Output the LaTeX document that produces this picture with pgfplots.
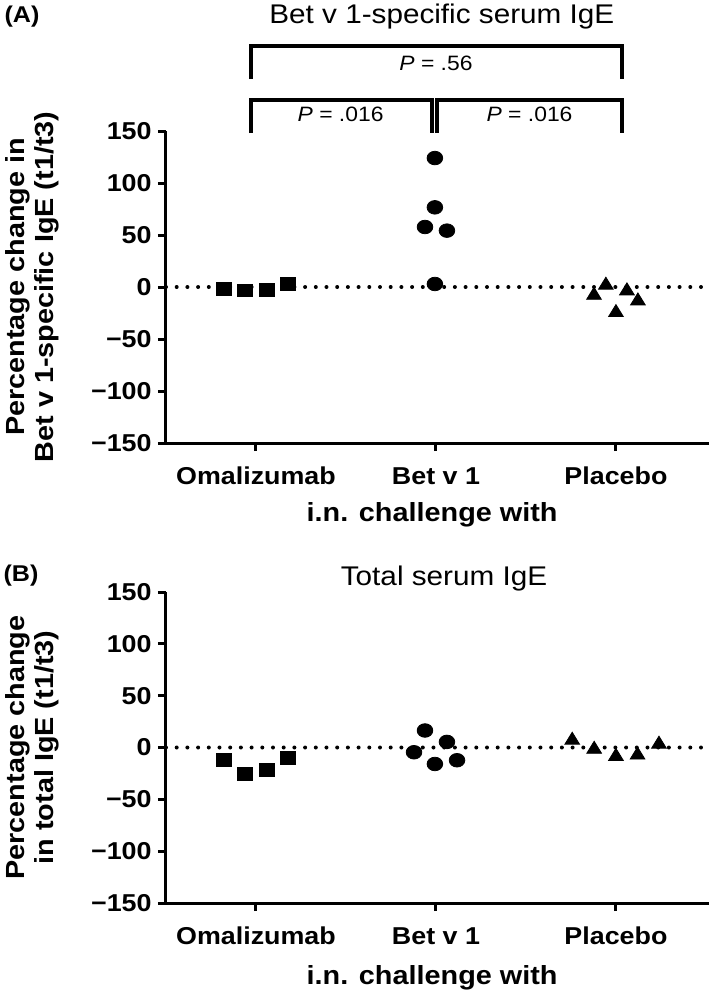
\documentclass[border=0pt]{standalone}
\usepackage{pgfplots}
\pgfplotsset{compat=1.18}
\usepackage{fontspec}
\setmainfont[FakeStretch=1.1]{Liberation Sans}

\pgfplotstableread{
x y
0.822 -1.5
0.939 -3.2
1.061 -2.5
1.178 2.9
}\omaA
\pgfplotstableread{
x y
1.994 124
1.994 76.6
1.939 57.7
2.061 54.2
1.994 2.9
}\betA
\pgfplotstableread{
x y
2.878 -8.0
2.944 1.7
3.000 -24.6
3.061 -3.7
3.122 -13.4
}\plaA
\pgfplotstableread{
x y
0.822 -11.8
0.939 -25.6
1.061 -21.8
1.178 -9.9
}\omaB
\pgfplotstableread{
x y
1.878 -4.6
1.939 16.4
1.994 -15.9
2.061 5.4
2.117 -12.3
}\betB
\pgfplotstableread{
x y
2.757 7.0
2.879 -1.7
3.000 -8.6
3.120 -7.3
3.239 3.2
}\plaB

\pgfplotsset{
  panel/.style={
    scale only axis, width=271.5pt,
    xmin=0.5, xmax=3.517, ymin=-150, ymax=150,
    axis x line*=bottom, axis y line*=left,
    axis line style={line width=1.5pt, -},
    tick style={black, line width=1.5pt},
    tick align=outside, major tick length=4pt,
    xtick={1,2,3}, xticklabels={Omalizumab,Bet v 1,Placebo},
    ytick={-150,-100,-50,0,50,100,150},
    yticklabels={−150,−100,−50,0,50,100,150},
    tick label style={font=\fontsize{12.2}{14}\selectfont\bfseries, inner sep=0pt},
    xticklabel style={anchor=base, yshift=-16.75pt},
    yticklabel style={anchor=east, xshift=-3pt},
    label style={font=\fontsize{13.1}{14.5}\selectfont\bfseries},
    xlabel={i.n. challenge with},
    ylabel style={align=center, anchor=center, at={(axis description cs:-0.247,0.5)}},
    every axis title shift=0pt,
    title style={font=\fontsize{13.5}{16}\selectfont, anchor=base},
    clip=false,
  },
  zero/.style={black, line width=2pt, line cap=round, dash pattern=on 0pt off 5.35pt},
  sq/.style={only marks, mark=square*, mark size=3.2pt, mark options={xscale=1.2, fill=black, draw=black}},
  ci/.style={only marks, mark=*, mark size=3.4pt, mark options={xscale=1.15, fill=black, draw=black}},
  tr/.style={only marks, mark=triangle*, mark size=4pt, mark options={xscale=1.06, fill=black, draw=black}},
}

\begin{document}
\begin{tikzpicture}
\useasboundingbox (-83pt,-47.5pt) rectangle (271.5pt,451.5pt);

% Panel A
\begin{axis}[panel, at={(0pt,230pt)}, anchor=south west, height=156pt,
  title={Bet v 1-specific serum IgE},
  title style={at={(axis description cs:0.508,1.346)}},
  ylabel={Percentage change in\\Bet v 1-specific IgE (t1/t3)},
  xlabel style={at={(axis description cs:0.49,-0.25)}, anchor=base},
]
\addplot[zero] coordinates {(0.5,0) (3.517,0)};
\addplot[sq] table {\omaA};
\addplot[ci] table {\betA};
\addplot[tr] table {\plaA};
\draw[line width=2pt] (axis cs:0.975,200) |- (axis cs:3.033,231.7) -- (axis cs:3.033,200);
\draw[line width=2pt] (axis cs:0.97,148) |- (axis cs:1.98,180) -- (axis cs:1.98,148);
\draw[line width=2pt] (axis cs:2.005,148) |- (axis cs:3.033,180) -- (axis cs:3.033,148);
\node[font=\fontsize{10.4}{12}\selectfont] at (axis cs:2.0,215) {\textit{P} = .56};
\node[font=\fontsize{10.4}{12}\selectfont] at (axis cs:1.47,166) {\textit{P} = .016};
\node[font=\fontsize{10.4}{12}\selectfont] at (axis cs:2.52,166) {\textit{P} = .016};
\end{axis}

% Panel B
\begin{axis}[panel, at={(0pt,0pt)}, anchor=south west, height=155.5pt,
  title={Total serum IgE},
  title style={at={(axis description cs:0.512,1.0225)}},
  ylabel={Percentage change\\in total IgE (t1/t3)},
  xlabel style={at={(axis description cs:0.49,-0.263)}, anchor=base},
]
\addplot[zero] coordinates {(0.5,0) (3.517,0)};
\addplot[sq] table {\omaB};
\addplot[ci] table {\betB};
\addplot[tr] table {\plaB};
\end{axis}

\node[font=\fontsize{11.4}{13}\selectfont\bfseries] at (-72pt,443pt) {(A)};
\node[font=\fontsize{11.4}{13}\selectfont\bfseries] at (-72.5pt,163.5pt) {(B)};
\end{tikzpicture}
\end{document}
